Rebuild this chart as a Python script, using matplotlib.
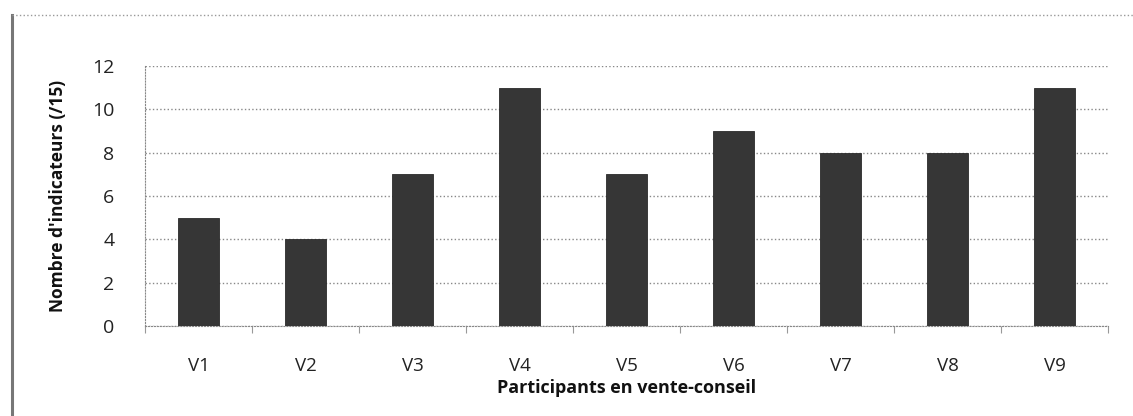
import matplotlib
matplotlib.use("Agg")
import matplotlib.pyplot as plt
from matplotlib.lines import Line2D
import numpy as np

categories = ["V1", "V2", "V3", "V4", "V5", "V6", "V7", "V8", "V9"]
values = [5, 4, 7, 11, 7, 9, 8, 8, 11]
yticks = [0, 2, 4, 6, 8, 10, 12]

plt.rcParams['font.family'] = ['Open Sans', 'DejaVu Sans']

fig = plt.figure(figsize=(11.33, 4.16), dpi=100)
ax = fig.add_axes([145/1133, 1-326/416, (1108-145)/1133, (326-66)/416])

x = np.arange(len(categories))
ax.bar(x, values, width=0.39, color="#363636", edgecolor="#2a2a2a", linewidth=0.6, zorder=3)

ax.set_xlim(-0.5, len(categories) - 0.5)
ax.set_ylim(0, 12)
ax.set_yticks(yticks)
ax.set_yticklabels([str(v) for v in yticks], fontsize=14, color="#222222")
ax.set_xticks(x)
ax.set_xticklabels(categories, fontsize=13.5, color="#222222")
ax.tick_params(axis='x', length=0, pad=22)
ax.tick_params(axis='y', length=0, pad=22)
# boundary ticks
ax.set_xticks(np.arange(-0.5, len(categories), 1.0), minor=True)
ax.tick_params(axis='x', which='minor', length=5, color="#999999", direction='out', width=0.8)

ax.yaxis.grid(True, linestyle=':', color="#888888", linewidth=1.0, zorder=0)
for s in ['top', 'right']:
    ax.spines[s].set_visible(False)
ax.spines['left'].set_linestyle(':')
ax.spines['left'].set_color('#888888')
ax.spines['bottom'].set_linestyle(':')
ax.spines['bottom'].set_color('#888888')

ax.set_xlabel("Participants en vente-conseil", fontsize=13, fontweight='bold', labelpad=3, color="#111111")
ax.set_ylabel("Nombre d'indicateurs (/15)", fontsize=12.5, fontweight='bold', labelpad=18,
              color="#111111")

# outer frame: left border and top dotted line
fig.add_artist(Line2D([12/1133, 12/1133], [0, 1-15/416], transform=fig.transFigure,
                      color="#777777", linewidth=2.2))
fig.add_artist(Line2D([12/1133, 1], [1-15/416, 1-15/416], transform=fig.transFigure,
                      color="#999999", linewidth=1.0, linestyle=':'))

fig.savefig("out.png", dpi=100)
